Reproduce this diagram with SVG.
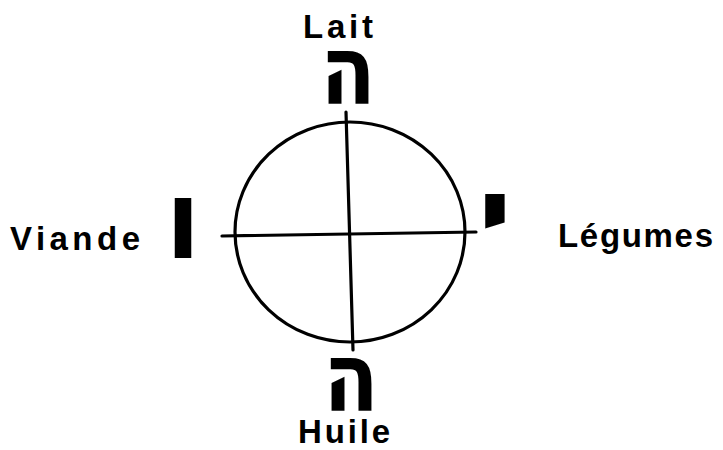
<svg xmlns="http://www.w3.org/2000/svg" width="723" height="450" viewBox="0 0 723 450">
<style>
.lbl{font-family:"Liberation Sans",Arial,sans-serif;font-weight:bold;font-size:33px;fill:#000}
.heb{font-family:"DejaVu Sans","Liberation Sans",sans-serif;font-weight:bold;font-size:60px;fill:#000;text-anchor:middle}
.ln{stroke:#000;stroke-width:3.2;fill:none;stroke-linecap:round}
</style>
<rect width="723" height="450" fill="#fff"/>
<g id="circle"><ellipse class="ln" cx="350" cy="232" rx="115" ry="110"/></g>
<g id="connectors">
<line class="ln" x1="346" y1="112" x2="353" y2="350"/>
<line class="ln" x1="222" y1="236" x2="476" y2="232"/>
</g>
<g id="node-top"><text class="lbl" x="303" y="38" textLength="70" lengthAdjust="spacing">Lait</text><text class="heb" transform="translate(348,103) scale(1.34,1.6)">ה</text></g>
<g id="node-left"><text class="lbl" x="10" y="250" textLength="130" lengthAdjust="spacing">Viande</text><text class="heb" transform="translate(183,258) scale(1.7,1.83)">ו</text></g>
<g id="node-right"><text class="lbl" x="558" y="247" textLength="155" lengthAdjust="spacing">Légumes</text><text class="heb" transform="translate(495,243) scale(2,1.5)">י</text></g>
<g id="node-bottom"><text class="heb" transform="translate(351,410) scale(1.34,1.6)">ה</text><text class="lbl" x="298" y="443" textLength="92" lengthAdjust="spacing">Huile</text></g>
</svg>
